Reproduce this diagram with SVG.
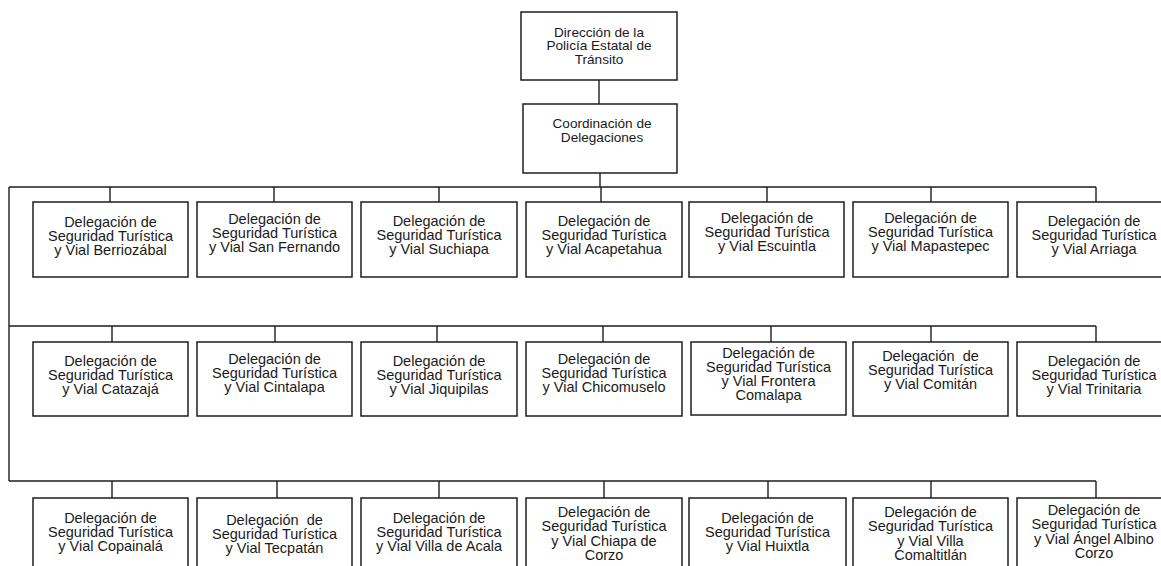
<svg xmlns="http://www.w3.org/2000/svg" width="1161" height="566" viewBox="0 0 1161 566">
<style>
.box{fill:#fff;stroke:#1e1e1e;stroke-width:1.5}
.ln{stroke:#1e1e1e;stroke-width:1.4;fill:none}
text{font-family:"Liberation Sans",Arial,sans-serif;font-size:14.5px;fill:#1a1a1a;text-anchor:middle;white-space:pre}
.top text{font-size:13.6px}
</style>
<rect width="1161" height="566" fill="#fff"/>
<g id="connectors">
<path class="ln" d="M599,80V104M600,173V187M9,187H1096M9,187V481M9,326H1096M9,481H1096"/>
<path class="ln" d="M110,187V202M274,187V202M439,187V202M601,187V202M767,187V202M931,187V202M1096,187V202"/>
<path class="ln" d="M112,326V342M275,326V342M437,326V342M603,326V342M771,326V342M931,326V342M1096,326V342"/>
<path class="ln" d="M112,481V498M277,481V498M439,481V498M604,481V498M768,481V498M931,481V498M1096,481V498"/>
</g>
<g id="direccion" class="top"><rect class="box" x="521" y="12" width="156" height="68"/><text x="599" y="36.5"><tspan x="599">Dirección de la</tspan><tspan x="599" dy="13.8">Policía Estatal de</tspan><tspan x="599" dy="13.8">Tránsito</tspan></text></g>
<g id="coordinacion" class="top"><rect class="box" x="523" y="104" width="154" height="69"/><text x="602" y="128"><tspan x="602">Coordinación de</tspan><tspan x="602" dy="14">Delegaciones</tspan></text></g>

<g id="berriozabal"><rect class="box" x="33" y="202" width="155" height="75"/><text y="227"><tspan x="110.5">Delegación de</tspan><tspan x="110.5" dy="14">Seguridad Turística</tspan><tspan x="110.5" dy="14">y Vial Berriozábal</tspan></text></g>
<g id="sanfernando"><rect class="box" x="197" y="202" width="155" height="75"/><text y="224"><tspan x="274.5">Delegación de</tspan><tspan x="274.5" dy="14">Seguridad Turística</tspan><tspan x="274.5" dy="14">y Vial San Fernando</tspan></text></g>
<g id="suchiapa"><rect class="box" x="361" y="202" width="156" height="75"/><text y="226"><tspan x="439">Delegación de</tspan><tspan x="439" dy="14">Seguridad Turística</tspan><tspan x="439" dy="14">y Vial Suchiapa</tspan></text></g>
<g id="acapetahua"><rect class="box" x="526" y="202" width="156" height="75"/><text y="226"><tspan x="604">Delegación de</tspan><tspan x="604" dy="14">Seguridad Turística</tspan><tspan x="604" dy="14">y Vial Acapetahua</tspan></text></g>
<g id="escuintla"><rect class="box" x="689" y="202" width="155" height="75"/><text y="223"><tspan x="767">Delegación de</tspan><tspan x="767" dy="14">Seguridad Turística</tspan><tspan x="767" dy="14">y Vial Escuintla</tspan></text></g>
<g id="mapastepec"><rect class="box" x="853" y="202" width="155" height="75"/><text y="223"><tspan x="930.5">Delegación de</tspan><tspan x="930.5" dy="14">Seguridad Turística</tspan><tspan x="930.5" dy="14">y Vial Mapastepec</tspan></text></g>
<g id="arriaga"><rect class="box" x="1017" y="202" width="156" height="75"/><text y="226"><tspan x="1094">Delegación de</tspan><tspan x="1094" dy="14">Seguridad Turística</tspan><tspan x="1094" dy="14">y Vial Arriaga</tspan></text></g>

<g id="catazaja"><rect class="box" x="33" y="342" width="155" height="74"/><text y="366"><tspan x="110.5">Delegación de</tspan><tspan x="110.5" dy="14">Seguridad Turística</tspan><tspan x="110.5" dy="14">y Vial Catazajá</tspan></text></g>
<g id="cintalapa"><rect class="box" x="197" y="342" width="155" height="74"/><text y="364"><tspan x="274.5">Delegación de</tspan><tspan x="274.5" dy="14">Seguridad Turística</tspan><tspan x="274.5" dy="14">y Vial Cintalapa</tspan></text></g>
<g id="jiquipilas"><rect class="box" x="361" y="342" width="156" height="74"/><text y="366"><tspan x="439">Delegación de</tspan><tspan x="439" dy="14">Seguridad Turística</tspan><tspan x="439" dy="14">y Vial Jiquipilas</tspan></text></g>
<g id="chicomuselo"><rect class="box" x="526" y="342" width="156" height="74"/><text y="364"><tspan x="604">Delegación de</tspan><tspan x="604" dy="14">Seguridad Turística</tspan><tspan x="604" dy="14">y Vial Chicomuselo</tspan></text></g>
<g id="frontera"><rect class="box" x="691" y="342" width="155" height="73"/><text y="358"><tspan x="768.5">Delegación de</tspan><tspan x="768.5" dy="14">Seguridad Turística</tspan><tspan x="768.5" dy="14">y Vial Frontera</tspan><tspan x="768.5" dy="14">Comalapa</tspan></text></g>
<g id="comitan"><rect class="box" x="853" y="342" width="155" height="74"/><text y="361"><tspan x="930.5">Delegación  de</tspan><tspan x="930.5" dy="14">Seguridad Turística</tspan><tspan x="930.5" dy="14">y Vial Comitán</tspan></text></g>
<g id="trinitaria"><rect class="box" x="1017" y="342" width="156" height="74"/><text y="366"><tspan x="1094">Delegación de</tspan><tspan x="1094" dy="14">Seguridad Turística</tspan><tspan x="1094" dy="14">y Vial Trinitaria</tspan></text></g>

<g id="copainala"><rect class="box" x="33" y="498" width="155" height="80"/><text y="523"><tspan x="110.5">Delegación de</tspan><tspan x="110.5" dy="14">Seguridad Turística</tspan><tspan x="110.5" dy="14">y Vial Copainalá</tspan></text></g>
<g id="tecpatan"><rect class="box" x="197" y="498" width="155" height="80"/><text y="525"><tspan x="274.5">Delegación  de</tspan><tspan x="274.5" dy="14">Seguridad Turística</tspan><tspan x="274.5" dy="14">y Vial Tecpatán</tspan></text></g>
<g id="villadeacala"><rect class="box" x="361" y="498" width="156" height="80"/><text y="523"><tspan x="439">Delegación de</tspan><tspan x="439" dy="14">Seguridad Turística</tspan><tspan x="439" dy="14">y Vial Villa de Acala</tspan></text></g>
<g id="chiapadecorzo"><rect class="box" x="526" y="498" width="156" height="80"/><text y="517"><tspan x="604">Delegación de</tspan><tspan x="604" dy="14.3">Seguridad Turística</tspan><tspan x="604" dy="14.3">y Vial Chiapa de</tspan><tspan x="604" dy="14.3">Corzo</tspan></text></g>
<g id="huixtla"><rect class="box" x="689" y="498" width="157" height="80"/><text y="523"><tspan x="767.5">Delegación de</tspan><tspan x="767.5" dy="14">Seguridad Turística</tspan><tspan x="767.5" dy="14">y Vial Huixtla</tspan></text></g>
<g id="villacomaltitlan"><rect class="box" x="853" y="498" width="155" height="80"/><text y="517"><tspan x="930.5">Delegación de</tspan><tspan x="930.5" dy="14.3">Seguridad Turística</tspan><tspan x="930.5" dy="14.3">y Vial Villa</tspan><tspan x="930.5" dy="14.3">Comaltitlán</tspan></text></g>
<g id="angelalbino"><rect class="box" x="1017" y="498" width="156" height="80"/><text y="515"><tspan x="1094">Delegación de</tspan><tspan x="1094" dy="14.3">Seguridad Turística</tspan><tspan x="1094" dy="14.3">y Vial Ángel Albino</tspan><tspan x="1094" dy="14.3">Corzo</tspan></text></g>
</svg>
